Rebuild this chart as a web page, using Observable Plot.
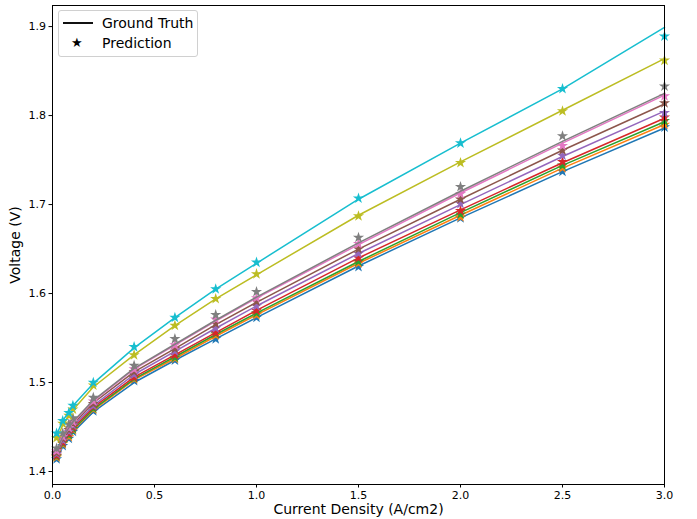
<!DOCTYPE html>
<html>
<head>
<meta charset="utf-8">
<script src="https://cdn.jsdelivr.net/npm/d3@7"></script>
<script src="https://cdn.jsdelivr.net/npm/@observablehq/plot@0.6"></script>
<style>
  html, body { margin: 0; padding: 0; background: white; }
  #wrap { position: relative; width: 697px; height: 519px; font-family: "DejaVu Sans", sans-serif; }
  #legend { position: absolute; left: 58px; top: 10px; width: 140px; height: 47px; box-sizing: border-box;
    border: 1px solid #d0d0d0; border-radius: 3px; background: rgba(255,255,255,0.85); font-size: 14px; color: black; }
  #legend .row { position: absolute; left: 0; height: 18px; line-height: 18px; }
  #legend .line { position: absolute; left: 4px; top: 8px; width: 30px; height: 0; border-top: 2px solid #111; }
  #legend .star { position: absolute; left: 12px; top: 0px; font-size: 13px; }
  #legend .lbl { position: absolute; left: 43px; top: 0; white-space: nowrap; }
</style>
</head>
<body>
<div id="wrap"><div id="legend">
  <div class="row" style="top:3px;width:130px"><div class="line"></div><span class="lbl">Ground Truth</span></div>
  <div class="row" style="top:23px;width:130px"><span class="star">★</span><span class="lbl">Prediction</span></div>
</div></div>
<script>
// Current density (A/cm2) sample points
const currentDensity = [0.02, 0.05, 0.08, 0.1, 0.2, 0.4, 0.6, 0.8, 1.0, 1.5, 2.0, 2.5, 3.0];

const seriesNames = ["S1", "S2", "S3", "S4", "S5", "S6", "S7", "S8", "S9", "S10"];
const seriesColors = ["#1f77b4", "#ff7f0e", "#2ca02c", "#d62728", "#9467bd", "#8c564b", "#e377c2", "#7f7f7f", "#bcbd22", "#17becf"];

// Ground truth voltages (V)
const gt1  = [1.413, 1.428, 1.438, 1.444, 1.467, 1.500, 1.525, 1.549, 1.573, 1.631, 1.685, 1.737, 1.786];
const gt2  = [1.415, 1.430, 1.440, 1.446, 1.469, 1.503, 1.527, 1.552, 1.576, 1.634, 1.688, 1.741, 1.790];
const gt3  = [1.416, 1.431, 1.441, 1.447, 1.470, 1.504, 1.529, 1.554, 1.578, 1.636, 1.691, 1.744, 1.793];
const gt4  = [1.417, 1.432, 1.442, 1.449, 1.472, 1.506, 1.531, 1.556, 1.581, 1.640, 1.694, 1.747, 1.797];
const gt5  = [1.419, 1.434, 1.444, 1.451, 1.474, 1.509, 1.535, 1.561, 1.586, 1.645, 1.700, 1.754, 1.805];
const gt6  = [1.420, 1.436, 1.446, 1.453, 1.477, 1.512, 1.538, 1.565, 1.590, 1.650, 1.706, 1.761, 1.813];
const gt7  = [1.422, 1.438, 1.448, 1.455, 1.479, 1.515, 1.542, 1.569, 1.595, 1.655, 1.713, 1.769, 1.823];
const gt8  = [1.423, 1.439, 1.449, 1.456, 1.480, 1.516, 1.543, 1.570, 1.596, 1.657, 1.715, 1.771, 1.825];
const gt9  = [1.436, 1.452, 1.462, 1.469, 1.495, 1.531, 1.564, 1.594, 1.621, 1.688, 1.748, 1.806, 1.864];
const gt10 = [1.441, 1.457, 1.467, 1.474, 1.499, 1.539, 1.573, 1.605, 1.634, 1.706, 1.769, 1.830, 1.899];

// Predicted voltages (V)
const pred1  = [1.414, 1.429, 1.437, 1.445, 1.468, 1.502, 1.525, 1.549, 1.573, 1.630, 1.685, 1.737, 1.787];
const pred2  = [1.416, 1.431, 1.439, 1.447, 1.470, 1.504, 1.527, 1.553, 1.576, 1.634, 1.686, 1.741, 1.790];
const pred3  = [1.417, 1.432, 1.441, 1.448, 1.471, 1.505, 1.528, 1.555, 1.578, 1.636, 1.689, 1.744, 1.794];
const pred4  = [1.418, 1.433, 1.443, 1.450, 1.473, 1.506, 1.531, 1.556, 1.581, 1.640, 1.693, 1.748, 1.798];
const pred5  = [1.420, 1.435, 1.445, 1.452, 1.474, 1.509, 1.535, 1.561, 1.586, 1.645, 1.701, 1.755, 1.803];
const pred6  = [1.421, 1.437, 1.447, 1.454, 1.476, 1.512, 1.538, 1.566, 1.591, 1.650, 1.706, 1.761, 1.814];
const pred7  = [1.423, 1.439, 1.449, 1.456, 1.479, 1.515, 1.542, 1.571, 1.595, 1.656, 1.712, 1.766, 1.822];
const pred8  = [1.426, 1.443, 1.453, 1.460, 1.483, 1.519, 1.549, 1.576, 1.602, 1.663, 1.720, 1.777, 1.833];
const pred9  = [1.438, 1.454, 1.463, 1.470, 1.497, 1.531, 1.564, 1.594, 1.622, 1.687, 1.747, 1.805, 1.862];
const pred10 = [1.443, 1.457, 1.466, 1.474, 1.500, 1.540, 1.573, 1.605, 1.635, 1.707, 1.769, 1.830, 1.889];

const yTicks = [1.4, 1.5, 1.6, 1.7, 1.8, 1.9];
const xTicks = [0, 0.5, 1.0, 1.5, 2.0, 2.5, 3.0];

const gtSeries = [gt1, gt2, gt3, gt4, gt5, gt6, gt7, gt8, gt9, gt10];
const predSeries = [pred1, pred2, pred3, pred4, pred5, pred6, pred7, pred8, pred9, pred10];

const gtRows = gtSeries.flatMap((vals, i) => vals.map((v, j) => ({series: seriesNames[i], x: currentDensity[j], y: v})));
const predRows = predSeries.flatMap((vals, i) => vals.map((v, j) => ({series: seriesNames[i], x: currentDensity[j], y: v})));

const marks = [];
marks.push(Plot.axisX({ticks: xTicks, tickFormat: d3.format(".1f"), tickSize: 3.5, tickPadding: 3}));
marks.push(Plot.axisY({ticks: yTicks, tickFormat: d3.format(".1f"), tickSize: 3.5, tickPadding: 3}));
marks.push(Plot.axisX({ticks: [], label: "Current Density (A/cm2)", labelAnchor: "center", labelArrow: "none", labelOffset: 29, fontSize: 14}));
marks.push(Plot.axisY({ticks: [], label: "Voltage (V)", labelAnchor: "center", labelArrow: "none", labelOffset: 42, fontSize: 14}));
seriesNames.forEach((s) => {
  marks.push(Plot.line(gtRows.filter(d => d.series === s), {x: "x", y: "y", stroke: "series", strokeWidth: 1.5}));
  marks.push(Plot.dot(predRows.filter(d => d.series === s), {x: "x", y: "y", fill: "series", symbol: "star", r: 3.5}));
});
marks.push(Plot.frame({stroke: "black", strokeWidth: 1}));

const chart = Plot.plot({
  width: 697, height: 519,
  marginLeft: 52, marginRight: 33, marginTop: 5, marginBottom: 35,
  style: {fontFamily: "DejaVu Sans, sans-serif", fontSize: "11px", color: "black", background: "white", overflow: "visible"},
  x: {domain: [0, 3], label: null},
  y: {domain: [1.3854, 1.9237], label: null},
  color: {domain: seriesNames, range: seriesColors},
  marks
});
document.getElementById("wrap").insertBefore(chart, document.getElementById("legend"));
</script>
</body>
</html>
